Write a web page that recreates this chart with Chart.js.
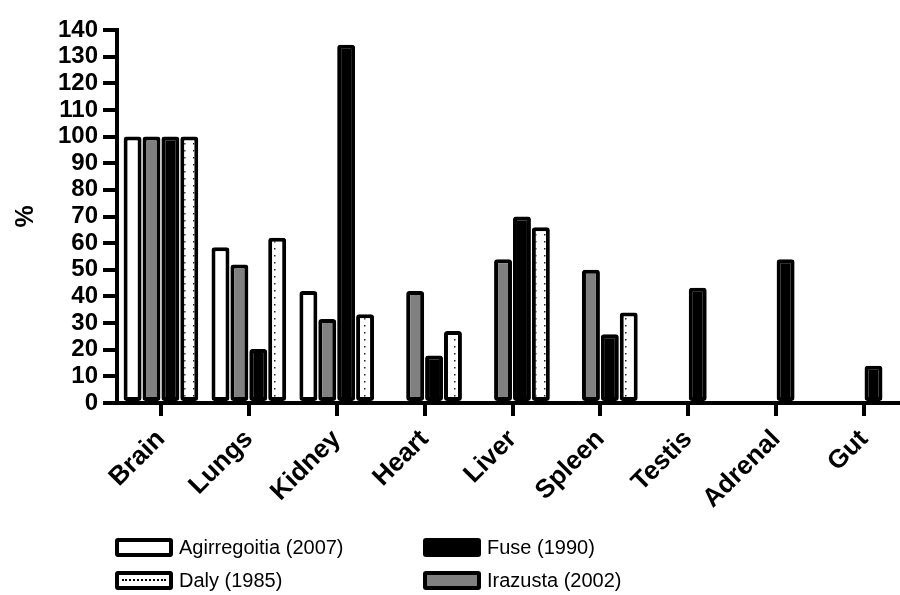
<!DOCTYPE html>
<html>
<head>
<meta charset="utf-8">
<script src="https://cdn.jsdelivr.net/npm/chart.js@4.4.1/dist/chart.umd.min.js"></script>
<style>
  html, body { margin:0; padding:0; background:#fff; width:900px; height:595px; overflow:hidden; }
  #wrap { position:absolute; left:0; top:0; width:915px; height:595px; }
  .leg { position:absolute; font-family:"Liberation Sans", Arial, sans-serif; font-size:20px; color:#000; display:flex; align-items:center; white-space:nowrap; }
  .sw { box-sizing:border-box; width:58px; height:19px; border:4px solid #000; border-radius:3px; margin-right:6px; position:relative; }
  .dots { position:absolute; left:3px; right:3px; top:4px; border-top:2px dotted #000; }
</style>
</head>
<body>
<div id="wrap"><canvas id="c" width="915" height="595"></canvas></div>
<div class="leg" style="left:115px; top:536px;"><div class="sw" style="background:#fff"></div>Agirregoitia (2007)</div>
<div class="leg" style="left:423px; top:536px;"><div class="sw" style="background:#000"></div>Fuse (1990)</div>
<div class="leg" style="left:115px; top:569px;"><div class="sw" style="background:#fff"><div class="dots"></div></div>Daly (1985)</div>
<div class="leg" style="left:423px; top:569px;"><div class="sw" style="background:#808080"></div>Irazusta (2002)</div>
<script>
const categories = ['Brain','Lungs','Kidney','Heart','Liver','Spleen','Testis','Adrenal','Gut'];
const agirregoitia = [100, 58.5, 42, null, null, null, null, null, null];
const irazusta     = [100, 52, 31.5, 42, 54, 50, null, null, null];
const fuse         = [100, 20.3, 134.5, 17.8, 70, 25.8, 43.3, 54, 14];
const daly         = [100, 62, 33.3, 27, 66, 34, null, null, null];
const yTicks = [0,10,20,30,40,50,60,70,80,90,100,110,120,130,140];

function dotPattern() {
  const p = document.createElement('canvas');
  p.width = 9; p.height = 7;
  const g = p.getContext('2d');
  g.fillStyle = '#fff'; g.fillRect(0,0,9,7);
  g.fillStyle = '#222'; g.fillRect(4,3,1.5,1.5);
  return document.getElementById('c').getContext('2d').createPattern(p, 'repeat');
}

const FONT = '"Liberation Sans", Arial, sans-serif';
const common = { borderColor:'#000', borderWidth:4, borderRadius:3, borderSkipped:false,
  categoryPercentage:0.86, barPercentage:0.95 };

new Chart(document.getElementById('c'), {
  type: 'bar',
  data: {
    labels: categories,
    datasets: [
      Object.assign({ label:'Agirregoitia (2007)', data:agirregoitia, backgroundColor:'#fff' }, common),
      Object.assign({ label:'Irazusta (2002)', data:irazusta, backgroundColor:'#808080' }, common),
      Object.assign({ label:'Fuse (1990)', data:fuse, backgroundColor:'#000' }, common),
      Object.assign({ label:'Daly (1985)', data:daly, backgroundColor:dotPattern() }, common)
    ]
  },
  options: {
    responsive:false, animation:false, devicePixelRatio:1,
    layout:{ padding:{ top:30, right:7, left:0, bottom:0 } },
    plugins:{ legend:{ display:false }, tooltip:{ enabled:false } },
    scales:{
      x:{
        grid:{ offset:false, drawOnChartArea:false, drawTicks:true, tickLength:13, lineWidth:4, color:'#000' },
        border:{ display:true, width:4, color:'#000' },
        ticks:{ color:'#000', font:{ family:FONT, size:26, weight:'bold' }, minRotation:45, maxRotation:45, padding:8, autoSkip:false },
        afterFit(s){ s.height = 192; }
      },
      y:{
        min:0, max:140,
        afterBuildTicks(s){ s.ticks = yTicks.map(v => ({ value:v })); },
        grid:{ drawOnChartArea:false, drawTicks:true, tickLength:14, lineWidth:4, color:'#000' },
        border:{ display:true, width:4, color:'#000' },
        ticks:{ color:'#000', font:{ family:FONT, size:24, weight:'bold' }, padding:5, autoSkip:false },
        title:{ display:true, text:'%', color:'#000', font:{ family:FONT, size:25, weight:'bold' }, padding:{ top:11, bottom:0 } },
        afterFit(s){ s.width = 117; }
      }
    }
  }
});
</script>
</body>
</html>
